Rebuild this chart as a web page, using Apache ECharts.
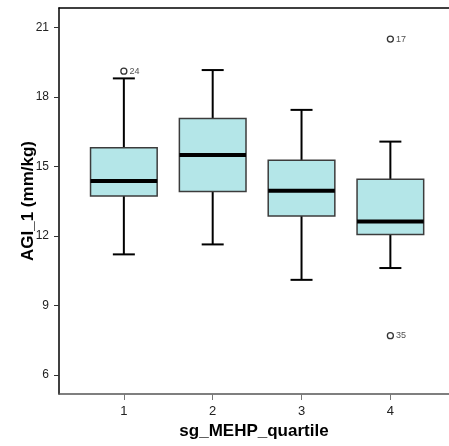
<!DOCTYPE html>
<html>
<head>
<meta charset="utf-8">
<script src="https://cdn.jsdelivr.net/npm/echarts@6/dist/echarts.min.js"></script>
<style>html,body{margin:0;padding:0;background:#fff;}#c{width:449px;height:446px;}</style>
</head>
<body>
<div id="c"></div>
<script>
const categories = [1, 2, 3, 4];
const lowWhisker = [11.21, 11.64, 10.11, 10.62];
const q1 = [13.73, 13.92, 12.87, 12.07];
const median = [14.38, 15.50, 13.96, 12.63];
const q3 = [15.82, 17.08, 15.28, 14.45];
const highWhisker = [18.81, 19.17, 17.45, 16.08];
const outlierGroup = [1, 4, 4];
const outlierValue = [19.12, 20.51, 7.70];
const outlierLabel = ['24', '17', '35'];
const yTicks = [6, 9, 12, 15, 18, 21];

const FONT = '"Liberation Sans", Arial, sans-serif';
const boxData = categories.map((c, i) => [c, lowWhisker[i], q1[i], median[i], q3[i], highWhisker[i]]);
const outData = outlierGroup.map((g, i) => [g, outlierValue[i], outlierLabel[i]]);

const chart = echarts.init(document.getElementById('c'), null, {renderer: 'canvas'});
chart.setOption({
  animation: false,
  backgroundColor: '#fff',
  grid: {left: 59, top: 8, right: 0, bottom: 52},
  xAxis: [{
    type: 'value', min: 0.27, max: 4.66,
    splitLine: {show: false},
    axisLine: {show: true, onZero: false, lineStyle: {color: '#555', width: 1.5}},
    axisTick: {show: true, customValues: categories, length: 6, lineStyle: {color: '#777', width: 1}},
    axisLabel: {customValues: categories, fontSize: 13, color: '#222', fontFamily: FONT, margin: 11},
    name: 'sg_MEHP_quartile', nameLocation: 'middle', nameGap: 29, nameMoveOverlap: false,
    nameTextStyle: {fontSize: 17, fontWeight: 'bold', color: '#000', fontFamily: FONT}
  }, {
    type: 'value', position: 'top', min: 0.27, max: 4.66,
    splitLine: {show: false},
    axisLine: {show: true, onZero: false, lineStyle: {color: '#000', width: 1.5}},
    axisTick: {show: false}, axisLabel: {show: false}
  }],
  yAxis: {
    type: 'value', min: 5.18, max: 21.85,
    splitLine: {show: false},
    axisLine: {show: true, onZero: false, lineStyle: {color: '#000', width: 1.5}},
    axisTick: {show: true, customValues: yTicks, length: 5, lineStyle: {color: '#333', width: 1}},
    axisLabel: {customValues: yTicks, fontSize: 12, color: '#222', fontFamily: FONT, margin: 10},
    name: 'AGI_1 (mm/kg)', nameLocation: 'middle', nameGap: 22, nameMoveOverlap: false,
    nameTextStyle: {fontSize: 17, fontWeight: 'bold', color: '#000', fontFamily: FONT}
  },
  series: [{
    type: 'custom',
    data: boxData,
    encode: {x: 0, y: [1, 2, 3, 4, 5]},
    renderItem: function (params, api) {
      const x = api.value(0);
      const pLow = api.coord([x, api.value(1)]);
      const pQ1 = api.coord([x, api.value(2)]);
      const pMed = api.coord([x, api.value(3)]);
      const pQ3 = api.coord([x, api.value(4)]);
      const pHigh = api.coord([x, api.value(5)]);
      const halfW = (api.coord([x + 0.375, 0])[0] - api.coord([x - 0.375, 0])[0]) / 2;
      const capW = 11;
      const cx = pMed[0];
      const black = {stroke: '#000', lineWidth: 2};
      return {
        type: 'group',
        children: [
          {type: 'line', shape: {x1: cx, y1: pHigh[1], x2: cx, y2: pQ3[1]}, style: black},
          {type: 'line', shape: {x1: cx, y1: pQ1[1], x2: cx, y2: pLow[1]}, style: black},
          {type: 'line', shape: {x1: cx - capW, y1: pHigh[1], x2: cx + capW, y2: pHigh[1]}, style: black},
          {type: 'line', shape: {x1: cx - capW, y1: pLow[1], x2: cx + capW, y2: pLow[1]}, style: black},
          {type: 'rect', shape: {x: cx - halfW, y: pQ3[1], width: 2 * halfW, height: pQ1[1] - pQ3[1]},
            style: {fill: '#b4e6e8', stroke: '#3c3c3c', lineWidth: 1.5}},
          {type: 'line', shape: {x1: cx - halfW, y1: pMed[1], x2: cx + halfW, y2: pMed[1]},
            style: {stroke: '#000', lineWidth: 4}}
        ]
      };
    }
  }, {
    type: 'scatter',
    data: outData,
    symbol: 'circle',
    symbolSize: 6,
    itemStyle: {color: '#fff', borderColor: '#000', borderWidth: 1.3},
    label: {show: true, position: 'right', distance: 2, formatter: p => p.value[2],
      fontSize: 9, color: '#222', fontFamily: FONT}
  }]
});
</script>
</body>
</html>
